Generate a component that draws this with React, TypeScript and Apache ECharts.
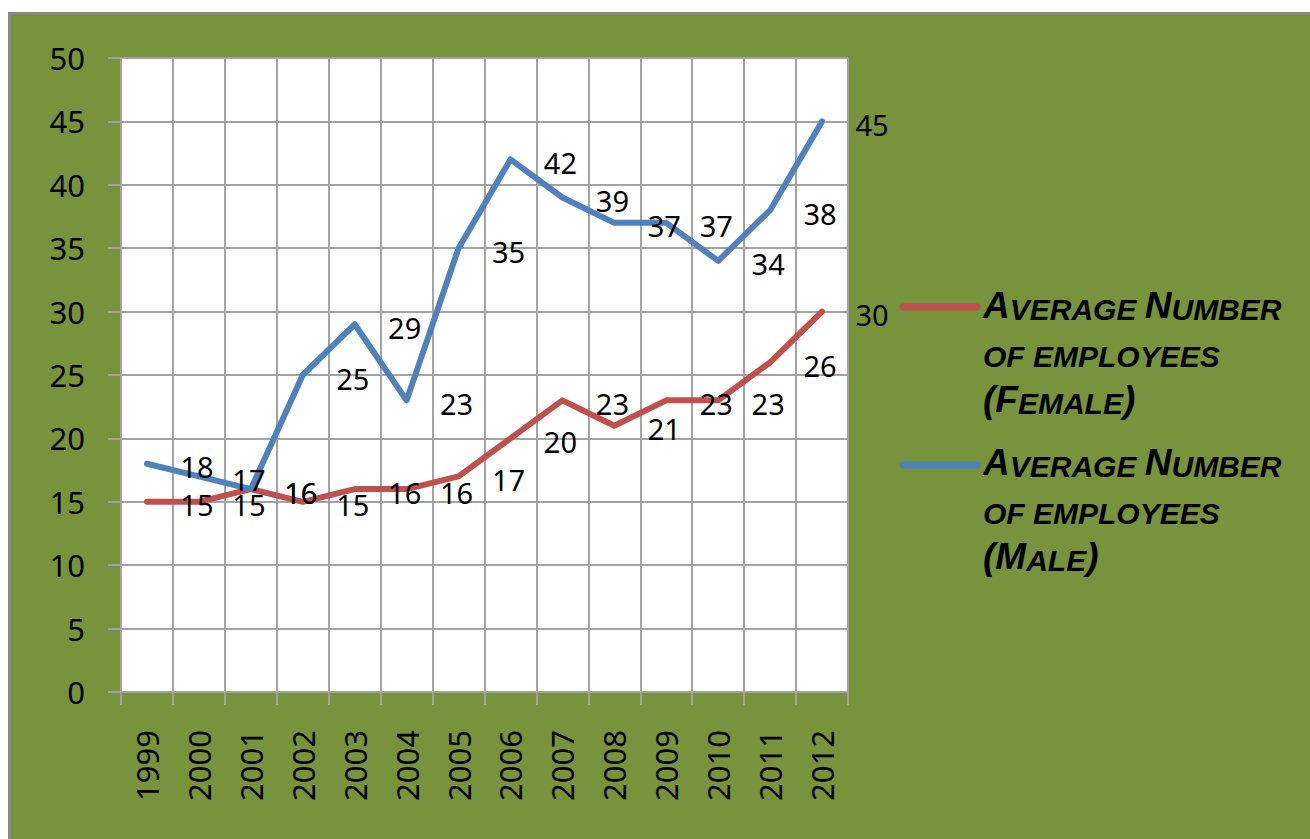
import { useEffect, useRef } from 'react';
import * as echarts from 'echarts';

const years = ['1999', '2000', '2001', '2002', '2003', '2004', '2005', '2006', '2007', '2008', '2009', '2010', '2011', '2012'];
const femaleValues = [15, 15, 16, 15, 16, 16, 17, 20, 23, 21, 23, 23, 26, 30];
const maleValues = [18, 17, 16, 25, 29, 23, 35, 42, 39, 37, 37, 34, 38, 45];
const femaleName = 'Average Number of employees (Female)';
const maleName = 'Average Number of employees (Male)';
const yMin = 0;
const yMax = 50;
const yStep = 5;

const RED = '#C0504D';
const BLUE = '#4F81BD';
const GRID = '#A3A3A3';
const YELLOW = '#FFFF00';

const legendRich = {
  b: { fontSize: 37, lineHeight: 47, verticalAlign: 'bottom', color: YELLOW, fontStyle: 'italic', fontWeight: 'bold', fontFamily: 'Liberation Sans' },
  s: { fontSize: 30, lineHeight: 47, verticalAlign: 'bottom', color: YELLOW, fontStyle: 'italic', fontWeight: 'bold', fontFamily: 'Liberation Sans' },
};

export default function App() {
  const ref = useRef<HTMLDivElement>(null);
  useEffect(() => {
    const chart = echarts.init(ref.current as HTMLDivElement, null, { renderer: 'svg' });
    const labelStyle = {
      show: true,
      position: 'inside',
      offset: [50, 3],
      fontSize: 29,
      color: '#000',
      fontFamily: 'Noto Sans',
    };
    chart.setOption({
      animation: false,
      backgroundColor: 'transparent',
      legend: { show: false },
      grid: {
        left: 121,
        top: 58,
        right: 1310 - 848,
        bottom: 839 - 692,
        show: true,
        backgroundColor: '#FFFFFF',
        borderWidth: 0,
      },
      xAxis: {
        type: 'category',
        data: years,
        boundaryGap: true,
        axisLine: { show: true, lineStyle: { color: GRID, width: 2 } },
        axisTick: { show: true, length: 13, alignWithLabel: false, interval: 0, lineStyle: { color: GRID, width: 2 } },
        splitLine: { show: true, interval: 0, lineStyle: { color: GRID, width: 2 } },
        axisLabel: {
          rotate: 90,
          interval: 0,
          margin: 38,
          fontSize: 31,
          color: '#000',
          fontFamily: 'Noto Sans',
        },
      },
      yAxis: {
        type: 'value',
        min: yMin,
        max: yMax,
        interval: yStep,
        axisLine: { show: true, lineStyle: { color: GRID, width: 2 } },
        axisTick: { show: true, length: 13, inside: false, lineStyle: { color: GRID, width: 2 } },
        splitLine: { show: true, lineStyle: { color: GRID, width: 2 } },
        axisLabel: {
          margin: 36,
          fontSize: 31,
          color: '#000',
          fontFamily: 'Noto Sans',
        },
      },
      series: [
        {
          name: femaleName,
          type: 'line',
          data: femaleValues,
          symbol: 'circle',
          symbolSize: 1,
          showSymbol: true,
          itemStyle: { color: RED },
          lineStyle: { color: RED, width: 6, cap: 'round', join: 'round' },
          label: labelStyle,
          z: 2,
        },
        {
          name: maleName,
          type: 'line',
          data: maleValues,
          symbol: 'circle',
          symbolSize: 1,
          showSymbol: true,
          itemStyle: { color: BLUE },
          lineStyle: { color: BLUE, width: 6, cap: 'round', join: 'round' },
          label: labelStyle,
          z: 3,
        },
      ],
      graphic: [
        {
          type: 'line',
          shape: { x1: 903, y1: 307, x2: 977, y2: 307 },
          style: { stroke: RED, lineWidth: 7, lineCap: 'round' },
        },
        {
          type: 'text',
          x: 983,
          y: 277,
          style: {
            text: '{b|A}{s|VERAGE }{b|N}{s|UMBER}\n{s|OF EMPLOYEES}\n{b|(F}{s|EMALE}{b|)}',
            rich: legendRich,
            verticalAlign: 'top',
            align: 'left',
          },
        },
        {
          type: 'line',
          shape: { x1: 903, y1: 465, x2: 977, y2: 465 },
          style: { stroke: BLUE, lineWidth: 7, lineCap: 'round' },
        },
        {
          type: 'text',
          x: 983,
          y: 434,
          style: {
            text: '{b|A}{s|VERAGE }{b|N}{s|UMBER}\n{s|OF EMPLOYEES}\n{b|(M}{s|ALE}{b|)}',
            rich: legendRich,
            verticalAlign: 'top',
            align: 'left',
          },
        },
      ],
    });
    return () => chart.dispose();
  }, []);
  return (
    <div style={{ position: 'fixed', left: 0, top: 0, width: 1310, height: 839, background: '#FFFFFF', overflow: 'hidden' }}>
      <div
        style={{
          position: 'absolute',
          left: 8,
          top: 12,
          width: 1400,
          height: 900,
          background: '#77933C',
          borderLeft: '3.5px solid #878787',
          borderTop: '3.5px solid #878787',
          boxSizing: 'border-box',
        }}
      />
      <div ref={ref} style={{ position: 'absolute', left: 0, top: 0, width: 1310, height: 839 }} />
    </div>
  );
}
